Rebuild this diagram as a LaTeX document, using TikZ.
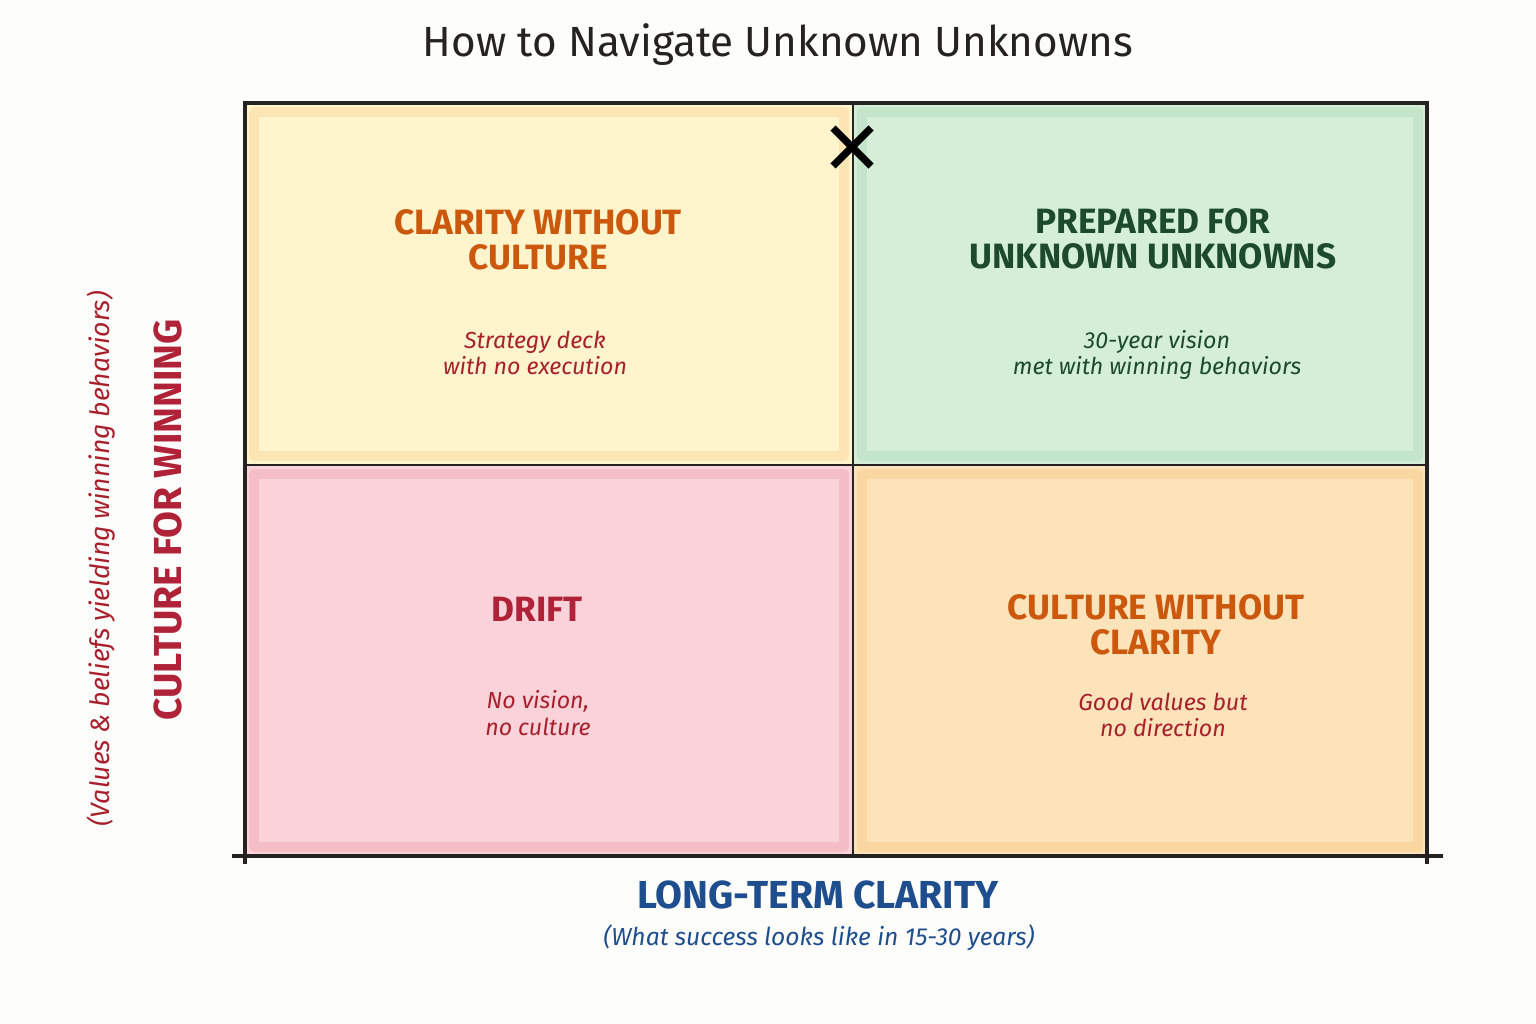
\documentclass[tikz,border=0pt]{standalone}
\usepackage{fontspec}
\setmainfont{Fira Sans}
\usepackage{xcolor}
\usepackage{tikz}
\usetikzlibrary{
  positioning,
  backgrounds
}
\definecolor{PaperWhite}{RGB}{253, 253, 252}
\definecolor{InkBlack}{RGB}{38, 34, 34}
\definecolor{CellYellow}{RGB}{255, 244, 203}
\definecolor{EdgeYellow}{RGB}{250, 218, 160}
\definecolor{CellGreen}{RGB}{213, 238, 216}
\definecolor{EdgeGreen}{RGB}{185, 222, 192}
\definecolor{CellPink}{RGB}{249, 211, 217}
\definecolor{EdgePink}{RGB}{243, 172, 184}
\definecolor{CellOrange}{RGB}{253, 227, 185}
\definecolor{EdgeOrange}{RGB}{249, 204, 140}
\definecolor{TitleOrange}{RGB}{204, 88, 14}
\definecolor{TitleGreen}{RGB}{28, 74, 42}
\definecolor{TitleRed}{RGB}{176, 34, 56}
\definecolor{NoteRed}{RGB}{168, 32, 44}
\definecolor{AxisBlue}{RGB}{30, 78, 142}
\tikzset{
    celledge/.style={line width=2.6pt, opacity=0.55, line join=round},
    quadtitle/.style={align=center, font=\fontsize{10}{10}\selectfont\bfseries},
    quadnote/.style={align=center, font=\fontsize{6.6}{7.6}\selectfont\itshape},
    axistitle/.style={font=\fontsize{11.1}{12}\selectfont\bfseries},
    axisnote/.style={font=\fontsize{7}{9}\selectfont\itshape}
}

\begin{document}
\begin{tikzpicture}[x=0.01cm, y=-0.01cm]
    \fill[PaperWhite] (0,0) rectangle (1536,1024);
    \useasboundingbox (0,0) rectangle (1536,1024);

    % title
    \node[font=\fontsize{12}{15}\selectfont, text=InkBlack] (title) at (778,45) {How to Navigate Unknown Unknowns};

    % quadrant cells
    \fill[CellYellow] (245,103) rectangle (853,465);
    \fill[CellGreen] (853,103) rectangle (1427,465);
    \fill[CellPink] (245,465) rectangle (853,856);
    \fill[CellOrange] (853,465) rectangle (1427,856);
    \draw[celledge, EdgeYellow] (254,112) rectangle (844,456);
    \draw[celledge, EdgeGreen] (862,112) rectangle (1418,456);
    \draw[celledge, EdgePink] (254,474) rectangle (844,847);
    \draw[celledge, EdgeOrange] (862,474) rectangle (1418,847);

    % frame and dividers
    \draw[InkBlack, line width=1.2pt] (245,856) -- (245,103) -- (1427,103) -- (1427,856);
    \draw[InkBlack, line width=0.8pt] (853,103) -- (853,856);
    \draw[InkBlack, line width=0.8pt] (245,465) -- (1427,465);
    \draw[InkBlack, line width=1.3pt] (232,856) -- (1443,856);
    \draw[InkBlack, line width=1pt] (245,856) -- (245,864);
    \draw[InkBlack, line width=1pt] (1427,856) -- (1427,864);

    % marker at the top
    \coordinate (mark) at (852,147);
    \draw[black, line width=2.1pt] ([shift={(-19,-19)}]mark) -- ([shift={(19,19)}]mark);
    \draw[black, line width=2.1pt] ([shift={(-19,19)}]mark) -- ([shift={(19,-19)}]mark);

    % quadrant texts
    \node[quadtitle, text=TitleOrange] (clarity) at (538,240) {CLARITY WITHOUT\\CULTURE};
    \node[quadnote, text=NoteRed] (claritynote) at (535,353) {Strategy deck\\with no execution};

    \node[quadtitle, text=TitleGreen] (prepared) at (1153,239) {PREPARED FOR\\UNKNOWN UNKNOWNS};
    \node[quadnote, text=TitleGreen] (preparednote) at (1157,355) {30-year vision\\met with winning behaviors};

    \node[quadtitle, text=TitleRed] (drift) at (537,609) {DRIFT};
    \node[quadnote, text=NoteRed] (driftnote) at (538,713) {No vision,\\no culture};

    \node[quadtitle, text=TitleOrange] (culture) at (1156,625) {CULTURE WITHOUT\\CLARITY};
    \node[quadnote, text=NoteRed] (culturenote) at (1163,715) {Good values but\\no direction};

    % axis labels
    \node[axistitle, text=AxisBlue] (xaxis) at (818,895) {LONG-TERM CLARITY};
    \node[axisnote, text=AxisBlue] (xnote) at (819,938) {(What success looks like in 15-30 years)};

    \node[axistitle, text=TitleRed, rotate=90] (yaxis) at (168,520) {CULTURE FOR WINNING};
    \node[axisnote, text=NoteRed, rotate=90, font=\fontsize{7.55}{9}\selectfont\itshape] (ynote) at (101,559) {(Values \& beliefs yielding winning behaviors)};
\end{tikzpicture}
\end{document}
